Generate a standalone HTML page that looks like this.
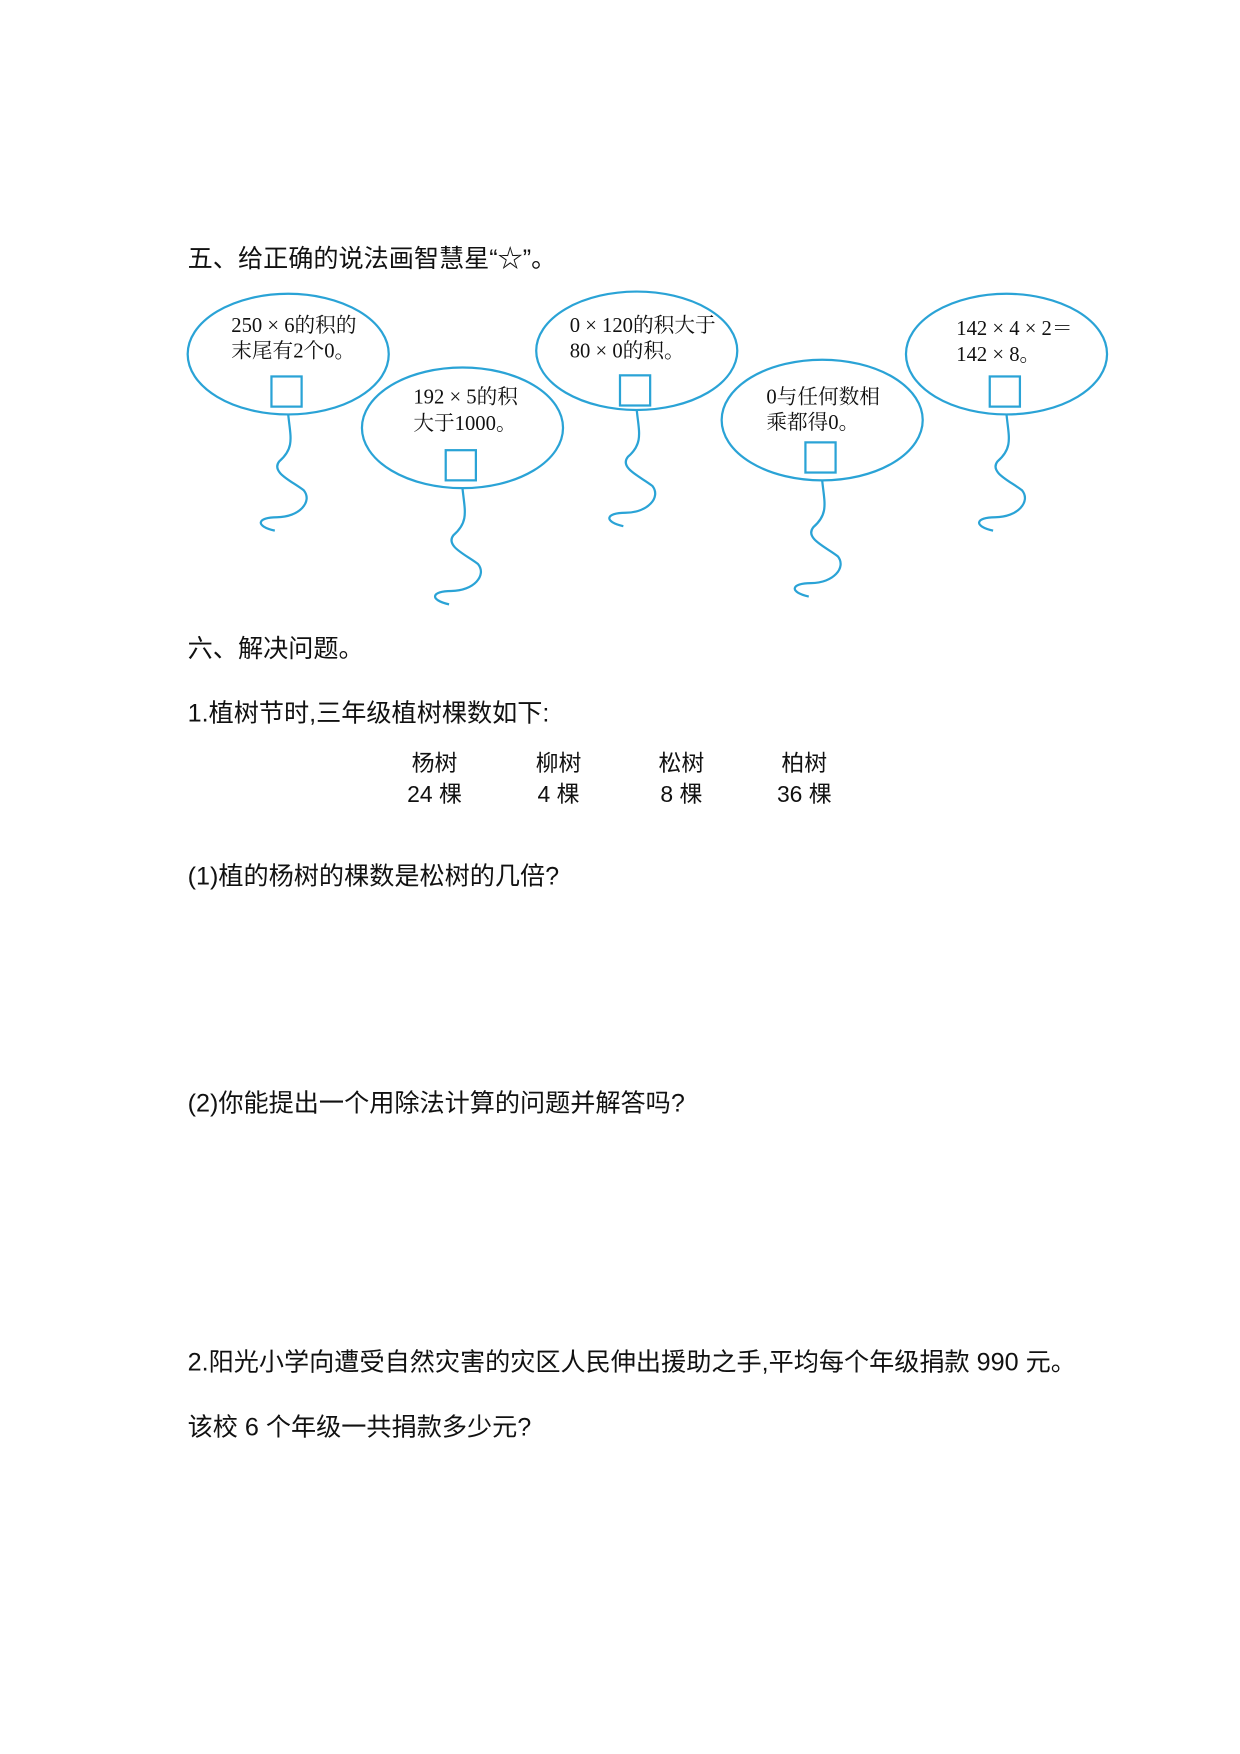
<!DOCTYPE html>
<html><head><meta charset="utf-8"><style>
body{margin:0;background:#fff;}
.o{width:1240px;height:1754px;overflow:hidden;position:relative;}
.p{position:absolute;left:0;top:0;width:1110px;height:1570px;transform:scale(1.1171);transform-origin:0 0;font-family:"Liberation Sans","Noto Sans CJK SC",sans-serif;color:#111;}
.t{position:absolute;left:168px;font-size:22.5px;white-space:nowrap;line-height:1;}
.c{position:absolute;font-size:20.5px;line-height:1;transform:translateX(-50%);white-space:nowrap;}
svg text{font-family:"Liberation Serif","Noto Serif CJK SC",serif;font-size:18.5px;fill:#111;}
</style></head><body><div class="o"><div class="p">
<div class="t" style="top:221px">五、给正确的说法画智慧星“☆”。</div>
<svg width="1110" height="600" style="position:absolute;left:0;top:0" fill="none" stroke="#2aa3d6" stroke-width="2">
<defs><path id="s" d="M0,0 C2,20 6,30 -8,42 C-16,52 4,60 14,68 C22,78 10,92 -10,92 C-28,92 -30,100 -12,104"/></defs>
<ellipse cx="258" cy="317" rx="90" ry="54"/><rect x="243" y="337" width="27" height="27"/><use href="#s" x="258" y="371"/>
<ellipse cx="414" cy="383" rx="90" ry="54"/><rect x="399" y="403" width="27" height="27"/><use href="#s" x="414" y="437"/>
<ellipse cx="570" cy="314" rx="90" ry="53"/><rect x="555" y="336" width="27" height="27"/><use href="#s" x="570" y="367"/>
<ellipse cx="736" cy="376" rx="90" ry="54"/><rect x="721" y="396" width="27" height="27"/><use href="#s" x="736" y="430"/>
<ellipse cx="901" cy="317" rx="90" ry="54"/><rect x="886" y="337" width="27" height="27"/><use href="#s" x="901" y="371"/>
<g stroke="none">
<text x="207" y="297">250 × 6的积的</text><text x="207" y="320">末尾有2个0。</text>
<text x="370" y="361">192 × 5的积</text><text x="370" y="385">大于1000。</text>
<text x="510" y="297">0 × 120的积大于</text><text x="510" y="320">80 × 0的积。</text>
<text x="686" y="361">0与任何数相</text><text x="686" y="384">乘都得0。</text>
<text x="856" y="300">142 × 4 × 2＝</text><text x="856" y="323">142 × 8。</text>
</g></svg>
<div class="t" style="top:570px">六、解决问题。</div>
<div class="t" style="top:628px">1.植树节时,三年级植树棵数如下:</div>
<div class="c" style="left:389px;top:674px">杨树</div><div class="c" style="left:500px;top:674px">柳树</div><div class="c" style="left:610px;top:674px">松树</div><div class="c" style="left:720px;top:674px">柏树</div>
<div class="c" style="left:389px;top:702px">24 棵</div><div class="c" style="left:500px;top:702px">4 棵</div><div class="c" style="left:610px;top:702px">8 棵</div><div class="c" style="left:720px;top:702px">36 棵</div>
<div class="t" style="top:774px">(1)植的杨树的棵数是松树的几倍?</div>
<div class="t" style="top:977px">(2)你能提出一个用除法计算的问题并解答吗?</div>
<div class="t" style="top:1209px">2.阳光小学向遭受自然灾害的灾区人民伸出援助之手,平均每个年级捐款 990 元。</div>
<div class="t" style="top:1267px">该校 6 个年级一共捐款多少元?</div>
</div></div></body></html>
